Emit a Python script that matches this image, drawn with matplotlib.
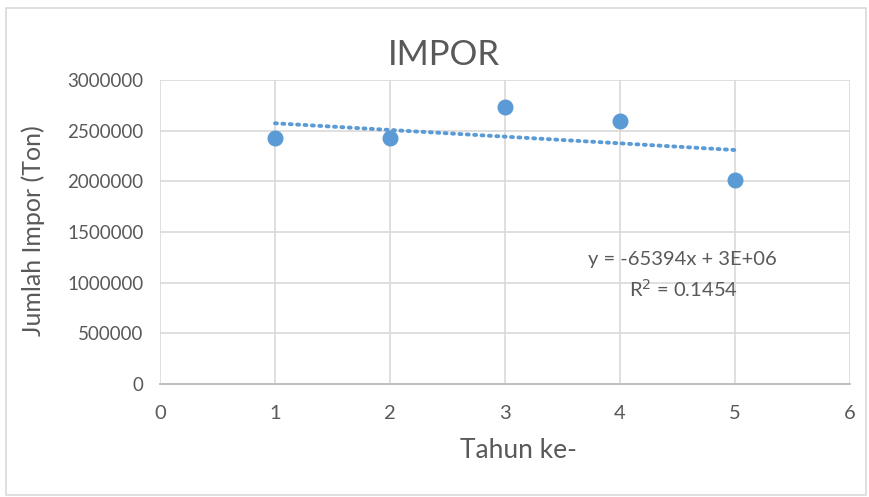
import matplotlib.pyplot as plt
import numpy as np

plt.rcParams['font.family'] = ['Lato', 'DejaVu Sans']

tahun = [1, 2, 3, 4, 5]
impor = [2430000, 2430000, 2730000, 2600000, 2015000]
y_ticks = [0, 500000, 1000000, 1500000, 2000000, 2500000, 3000000]
x_ticks = [0, 1, 2, 3, 4, 5, 6]

teks = '#595959'
biru = '#5B9BD5'
grid = '#D9D9D9'

W, H = 870, 497
fig = plt.figure(figsize=(W / 100, H / 100), dpi=100)
ax = fig.add_axes([160 / W, 1 - 384 / H, 690 / W, 304 / H])

# garis tren linear
slope, intercept = np.polyfit(tahun, impor, 1)
xs = np.array([tahun[0], tahun[-1]])
ax.plot(xs, slope * xs + intercept, color=biru, lw=2.8,
        linestyle=(0, (0.5, 1.4)), dash_capstyle='round', zorder=3)
ax.plot(tahun, impor, 'o', color=biru, markersize=10.5, zorder=4)

ax.set_xlim(0, 6)
ax.set_ylim(0, 3000000)
ax.set_xticks(x_ticks)
ax.set_yticks(y_ticks)
ax.set_yticklabels([str(v) for v in y_ticks])
ax.tick_params(length=0, colors=teks)
ax.tick_params(axis='x', pad=15, labelsize=14.5)
ax.tick_params(axis='y', pad=12, labelsize=13.5)
ax.grid(True, color=grid, lw=1.2, zorder=0)
for s in ['top', 'right', 'left']:
    ax.spines[s].set_visible(False)
ax.spines['bottom'].set_color('#BFBFBF')
ax.spines['bottom'].set_linewidth(1.4)

fig.text(444 / W, 1 - 65 / H, 'IMPOR', fontsize=25, color=teks,
         ha='center', va='baseline')
fig.text(518 / W, 1 - 458 / H, 'Tahun ke-', fontsize=19, color=teks,
         ha='center', va='baseline')
fig.text(33 / W, 1 - 231 / H, 'Jumlah Impor (Ton)', fontsize=18, color=teks,
         ha='center', va='center', rotation=90)

fig.text(682 / W, 1 - 259 / H, 'y = -65394x + 3E+06', fontsize=14.5,
         color=teks, ha='center', va='center')
fig.text(683 / W, 1 - 289 / H, 'R$^2$ = 0.1454', fontsize=14.5,
         color=teks, ha='center', va='center')

# bingkai area chart
fig.patches.append(plt.Rectangle((6 / W, 0.004), 1 - 10 / W, 1 - 10 / H,
                                 transform=fig.transFigure, fill=False,
                                 edgecolor='#D9D9D9', lw=1.2))

fig.savefig('out.png', dpi=100)
